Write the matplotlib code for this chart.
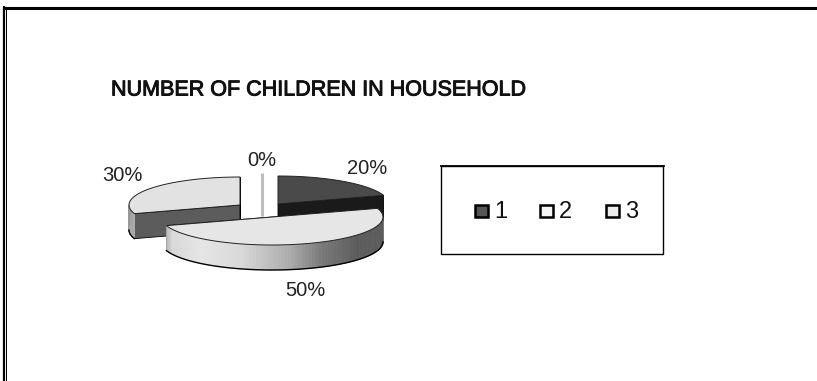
import numpy as np
import matplotlib
matplotlib.use("Agg")
import matplotlib.pyplot as plt
import matplotlib.patheffects as pe
from matplotlib.patches import Polygon, Rectangle

plt.rcParams["font.family"] = ["Liberation Sans", "DejaVu Sans"]

# data
title = "NUMBER OF CHILDREN IN HOUSEHOLD"
shares = [20, 50, 30, 0]
pct_labels = ["20%", "50%", "30%", "0%"]
legend_labels = ["1", "2", "3"]

W, H = 817, 381
RX, RY, DEPTH = 111, 28, 25

# where each exploded slice sits, and how it is painted
apex = [(278, 204), (272, 217), (240, 205), (262, 216)]
top_col = ["#4a4a4a", "#e6e6e6", "#e2e2e2", "#bdbdbd"]
cut_col = ["#1a1a1a", "#f0f0f0", "#5c5c5c", "#bdbdbd"]
label_pos = [(367, 168.5), (305, 290), (122, 175.5), (262, 160.5)]
legend_col = ["#555555", "#f4f4f4", "#ececec"]
legend_x = [474, 539, 605]


def arc(cx, cy, a0, a1, n=80):
    # angles clockwise from 12 o'clock, in degrees
    t = np.radians(np.linspace(a0, a1, n))
    return np.column_stack([cx + RX * np.sin(t), cy - RY * np.cos(t)])


fig = plt.figure(figsize=(W / 100, H / 100), dpi=100)
ax = fig.add_axes([0, 0, 1, 1])
ax.set_xlim(0, W)
ax.set_ylim(H, 0)
ax.axis("off")

# page frame
ax.plot([3, W], [7.5, 7.5], color="black", lw=2.2, solid_capstyle="butt")
ax.plot([4, 4], [6, H], color="black", lw=1.6, solid_capstyle="butt")
ax.plot([6.5, 6.5], [9, H], color="black", lw=0.7, solid_capstyle="butt")

ax.text(111, 90, title, fontsize=15.5, va="center", ha="left", color="#111111",
        path_effects=[pe.withStroke(linewidth=0.7, foreground="#111111")])

# slices are turned into angles here, slice 3 goes behind slice 2
starts = np.cumsum([0] + shares[:-1]) * 3.6
ends = np.cumsum(shares) * 3.6
order = [3, 0, 2, 1]
for i in order:
    cx, cy = apex[i]
    a0, a1 = starts[i], ends[i]
    if shares[i] == 0:
        ax.plot([cx, cx], [cy - 43, cy], color=top_col[i], lw=2.2, solid_capstyle="butt")
        continue
    outer = arc(cx, cy, a0, a1)
    # cut faces, first the one at the start angle, then at the end angle
    for pt in (outer[0], outer[-1]):
        face = [(cx, cy), pt, (pt[0], pt[1] + DEPTH), (cx, cy + DEPTH)]
        ax.add_patch(Polygon(face, closed=True, fc=cut_col[i], ec="black", lw=0.6))
    # outer rim, shaded strip by strip from left to right
    vis = np.radians(np.linspace(max(a0, 90), min(a1, 270), 90)) if a1 > 90 else []
    for t0, t1 in zip(vis[:-1], vis[1:]):
        p0 = (cx + RX * np.sin(t0), cy - RY * np.cos(t0))
        p1 = (cx + RX * np.sin(t1), cy - RY * np.cos(t1))
        frac = (0.5 * (p0[0] + p1[0]) - (cx - RX)) / (2 * RX)
        g = np.interp(frac, [0, 0.05, 0.18, 0.36, 0.58, 0.73, 0.88, 1],
                      [0.6, 0.85, 0.9, 0.85, 0.67, 0.47, 0.36, 0.36])
        quad = [p0, p1, (p1[0], p1[1] + DEPTH), (p0[0], p0[1] + DEPTH)]
        ax.add_patch(Polygon(quad, closed=True, fc=(g, g, g), ec=(g, g, g), lw=0.5))
    # rim on the left of the back slice, above 270 degrees
    if i == 2:
        ql = arc(cx, cy, a0, 283, 12)
        rim = np.vstack([ql, (ql + [0, DEPTH])[::-1]])
        ax.add_patch(Polygon(rim, closed=True, fc="#a8a8a8", ec="#a8a8a8", lw=0.4, zorder=1.5))
    if a1 > 90:
        low = arc(cx, cy + DEPTH, max(a0, 90), min(a1, 270))
        ax.plot(low[:, 0], low[:, 1], color="black", lw=1.0)
    # top surface
    top = np.vstack([[(cx, cy)], outer])
    ax.add_patch(Polygon(top, closed=True, fc=top_col[i], ec="#222222", lw=0.7, zorder=2 + order.index(i)))

for (x, y), s in zip(label_pos, pct_labels):
    ax.text(x, y, s, fontsize=14.5, ha="center", va="center", color="#222222", zorder=9)

# legend box
ax.add_patch(Rectangle((441.5, 165.5), 222, 88.5, fc="white", ec="black", lw=1.0))
ax.plot([441, 664], [165.5, 165.5], color="black", lw=1.3)
for x, c, s in zip(legend_x, legend_col, legend_labels):
    ax.add_patch(Rectangle((x + 1.5, 204.5), 12.5, 12, fc=c, ec="black", lw=1.8))
    ax.text(x + 20, 212.5, s, fontsize=17, va="center", ha="left", color="#111111")

fig.savefig("out.png", dpi=100)
